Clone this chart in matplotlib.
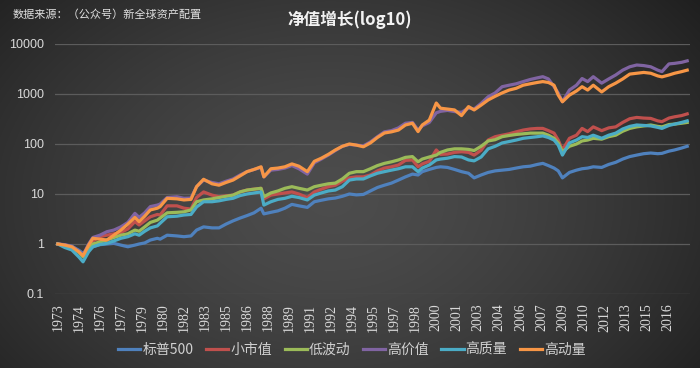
import numpy as np
import matplotlib
matplotlib.use('Agg')
import matplotlib.pyplot as plt
from matplotlib.lines import Line2D

plt.rcParams['font.family'] = ['Noto Sans CJK SC', 'DejaVu Sans']

# ---------------- data ----------------
dates = [
    1973.0, 1973.5, 1974.0, 1974.5, 1974.8, 1975.2, 1975.5, 1976.0, 1976.5, 1977.0,
    1977.5, 1978.0, 1978.5, 1978.8, 1979.2, 1979.6, 1980.1, 1980.3, 1980.8, 1981.5,
    1982.0, 1982.5, 1982.9, 1983.4, 1984.0, 1984.5, 1985.0, 1985.5, 1986.0, 1986.5,
    1987.0, 1987.5, 1987.7, 1988.2, 1988.7, 1989.2, 1989.7, 1990.2, 1990.8, 1991.3,
    1991.8, 1992.3, 1992.8, 1993.3, 1993.8, 1994.3, 1994.8, 1995.3, 1995.8, 1996.3,
    1996.8, 1997.3, 1997.8, 1998.3, 1998.7, 1999.0, 1999.5, 2000.0, 2000.3, 2000.8,
    2001.3, 2001.8, 2002.3, 2002.7, 2003.2, 2003.7, 2004.2, 2004.7, 2005.2, 2005.7,
    2006.2, 2006.7, 2007.2, 2007.6, 2008.0, 2008.4, 2008.7, 2009.0, 2009.5, 2010.0,
    2010.4, 2010.8, 2011.2, 2011.8, 2012.3, 2012.8, 2013.3, 2013.8, 2014.3, 2014.8,
    2015.3, 2015.8, 2016.1, 2016.6, 2017.0, 2017.5, 2017.9,
]

sp500 = [
    1.0, 0.95, 0.9, 0.75, 0.65, 0.8, 0.88, 0.97, 1.0, 1.03,
    0.95, 0.88, 0.95, 1.0, 1.05, 1.2, 1.3, 1.25, 1.5, 1.45,
    1.4, 1.45, 1.9, 2.2, 2.1, 2.1, 2.5, 2.9, 3.3, 3.7,
    4.2, 5.2, 4.0, 4.3, 4.6, 5.2, 6.2, 5.8, 5.4, 7.0,
    7.5, 8.0, 8.3, 9.0, 10.0, 9.6, 9.8, 11.5, 13.5, 15.0,
    16.5, 19.0, 22.0, 25.0, 24.0, 28.0, 31.0, 34.0, 35.0, 34.0,
    31.0, 28.0, 26.0, 21.0, 24.0, 27.0, 29.0, 30.0, 31.0, 33.0,
    35.0, 36.0, 39.0, 41.0, 37.0, 33.0, 29.0, 21.0, 27.0, 30.0,
    32.0, 33.0, 35.0, 34.0, 39.0, 43.0, 50.0, 56.0, 60.0, 64.0,
    66.0, 64.0, 65.0, 72.0, 76.0, 83.0, 90.0,
]

small_cap = [
    1.0, 0.95, 0.85, 0.7, 0.6, 0.9, 1.15, 1.4, 1.5, 1.6,
    1.7, 2.0, 2.8, 2.4, 2.9, 3.5, 3.9, 3.8, 5.8, 5.8,
    5.2, 5.0, 8.5, 11.0, 9.5, 8.8, 9.2, 9.5, 11.0, 12.0,
    12.5, 13.0, 8.0, 9.5, 10.0, 10.5, 11.0, 10.0, 8.5, 11.0,
    12.5, 14.0, 15.0, 18.0, 21.0, 22.0, 22.0, 24.0, 29.0, 33.0,
    35.0, 38.0, 47.0, 48.0, 35.0, 40.0, 45.0, 76.0, 62.0, 63.0,
    68.0, 70.0, 68.0, 60.0, 75.0, 120.0, 140.0, 150.0, 160.0, 175.0,
    190.0, 200.0, 205.0, 205.0, 185.0, 165.0, 120.0, 76.0, 130.0, 150.0,
    205.0, 177.0, 220.0, 185.0, 210.0, 220.0, 270.0, 320.0, 340.0, 330.0,
    325.0, 290.0, 280.0, 330.0, 350.0, 370.0, 400.0,
]

low_vol = [
    1.0, 0.92, 0.85, 0.68, 0.55, 0.85, 1.0, 1.1, 1.2, 1.35,
    1.5, 1.6, 1.9, 1.8, 2.2, 2.7, 3.0, 3.3, 4.2, 4.3,
    4.4, 4.8, 7.0, 7.6, 8.0, 8.5, 9.0, 9.5, 11.0, 12.0,
    12.5, 13.0, 8.8, 10.5, 11.5, 13.0, 14.0, 13.0, 12.0, 14.0,
    15.0, 16.0, 16.5, 20.0, 26.0, 28.0, 28.0, 32.0, 37.0, 41.0,
    44.0, 48.0, 54.0, 56.0, 44.0, 50.0, 55.0, 60.0, 68.0, 76.0,
    80.0, 80.0, 78.0, 74.0, 90.0, 115.0, 122.0, 140.0, 148.0, 155.0,
    160.0, 165.0, 165.0, 165.0, 150.0, 130.0, 105.0, 70.0, 90.0, 100.0,
    115.0, 120.0, 130.0, 125.0, 140.0, 150.0, 180.0, 205.0, 220.0, 230.0,
    240.0, 225.0, 220.0, 245.0, 250.0, 260.0, 270.0,
]

value = [
    1.0, 0.97, 0.9, 0.72, 0.6, 1.0, 1.35, 1.5, 1.76, 1.9,
    2.2, 2.7, 4.1, 3.4, 4.2, 5.6, 6.0, 6.3, 8.5, 8.8,
    8.2, 8.3, 14.0, 19.0, 17.0, 16.0, 18.0, 20.0, 24.0, 28.0,
    31.0, 34.0, 22.0, 30.0, 31.0, 33.0, 37.0, 32.0, 25.0, 42.0,
    50.0, 60.0, 74.0, 90.0, 98.0, 95.0, 92.0, 110.0, 140.0, 175.0,
    185.0, 210.0, 260.0, 270.0, 190.0, 230.0, 270.0, 420.0, 450.0, 470.0,
    445.0, 430.0, 525.0, 500.0, 650.0, 880.0, 1050.0, 1400.0, 1500.0, 1600.0,
    1770.0, 1950.0, 2100.0, 2220.0, 2000.0, 1400.0, 1050.0, 700.0, 1200.0, 1500.0,
    2040.0, 1770.0, 2220.0, 1650.0, 2000.0, 2400.0, 3000.0, 3500.0, 3800.0, 3700.0,
    3500.0, 3000.0, 2800.0, 4000.0, 4100.0, 4300.0, 4600.0,
]

quality = [
    1.0, 0.85, 0.76, 0.55, 0.44, 0.7, 0.88, 0.98, 1.03, 1.15,
    1.3, 1.4, 1.6, 1.5, 1.8, 2.1, 2.3, 2.6, 3.5, 3.6,
    3.8, 3.9, 5.5, 7.0, 7.0, 7.3, 7.8, 8.2, 9.3, 10.0,
    10.5, 11.0, 6.0, 7.0, 7.8, 8.2, 9.0, 8.5, 7.6, 9.5,
    10.5, 11.5, 12.0, 14.0, 19.0, 20.0, 20.0, 23.0, 26.0, 28.0,
    30.0, 32.0, 35.0, 35.0, 28.0, 33.0, 38.0, 48.0, 50.0, 52.0,
    56.0, 55.0, 48.0, 46.0, 55.0, 80.0, 90.0, 105.0, 112.0, 120.0,
    130.0, 135.0, 140.0, 145.0, 135.0, 120.0, 95.0, 60.0, 105.0, 120.0,
    140.0, 135.0, 150.0, 130.0, 150.0, 165.0, 200.0, 225.0, 240.0, 235.0,
    230.0, 215.0, 205.0, 235.0, 250.0, 270.0, 290.0,
]

momentum = [
    1.0, 0.95, 0.88, 0.7, 0.58, 0.95, 1.3, 1.25, 1.2, 1.5,
    1.9, 2.5, 3.4, 2.8, 3.6, 4.8, 5.2, 5.6, 8.2, 8.0,
    7.6, 7.8, 14.0, 19.7, 16.0, 15.0, 17.0, 19.0, 23.0, 28.0,
    31.0, 35.0, 22.0, 32.0, 33.0, 35.0, 40.0, 36.0, 28.0, 45.0,
    52.0, 62.0, 76.0, 90.0, 100.0, 95.0, 88.0, 105.0, 135.0, 166.0,
    175.0, 190.0, 240.0, 260.0, 177.0, 240.0, 300.0, 660.0, 520.0, 500.0,
    480.0, 370.0, 560.0, 480.0, 600.0, 760.0, 900.0, 1050.0, 1200.0, 1300.0,
    1500.0, 1600.0, 1700.0, 1770.0, 1700.0, 1500.0, 950.0, 700.0, 950.0, 1150.0,
    1400.0, 1200.0, 1500.0, 1100.0, 1400.0, 1650.0, 2000.0, 2500.0, 2600.0, 2700.0,
    2600.0, 2300.0, 2200.0, 2400.0, 2600.0, 2800.0, 3000.0,
]

series_names = ['标普500', '小市值', '低波动', '高价值', '高质量', '高动量']
series_values = [sp500, small_cap, low_vol, value, quality, momentum]
colors = ['#4F81BD', '#C0504D', '#9BBB59', '#8064A2', '#4BACC6', '#F79646']

ytick_values = [0.1, 1, 10, 100, 1000, 10000]
ytick_labels = ['0.1', '1', '10', '100', '1000', '10000']
xtick_labels = ['1973', '1974', '1976', '1977', '1979', '1980', '1982', '1983',
                '1985', '1986', '1988', '1989', '1991', '1992', '1994', '1995',
                '1997', '1998', '2000', '2001', '2003', '2004', '2006', '2007',
                '2009', '2010', '2012', '2013', '2015', '2016']
xtick_pos = [1973 + 1.5 * k for k in range(len(xtick_labels))]

title = '净值增长(log10)'
source = '数据来源：（公众号）新全球资产配置'

# ---------------- figure ----------------
W, H = 700, 368
fig = plt.figure(figsize=(W / 100, H / 100), dpi=100)

# dark radial gradient background
bg = fig.add_axes([0, 0, 1, 1], zorder=-10)
yy, xx = np.mgrid[0:H, 0:W]
r = np.sqrt(((xx - 330) / 470.0) ** 2 + ((yy - 200) / 330.0) ** 2)
g = 0.30 - 0.18 * np.clip(r, 0, 1) ** 1.5
bg.imshow(np.dstack([g, g, g]), aspect='auto', extent=[0, 1, 0, 1], origin='upper')
bg.set_xlim(0, 1)
bg.set_ylim(0, 1)
bg.axis('off')

ax = fig.add_axes([55 / W, 1 - 294 / H, 635 / W, 250 / H])
ax.set_facecolor('none')
ax.set_yscale('log')
ax.set_ylim(0.1, 10000)
ax.set_xlim(1972.8, 2018.1)

for yv in ytick_values:
    ax.axhline(yv, color='#5c5c5c', lw=0.9, zorder=1)

for vals, c, name in zip(series_values, colors, series_names):
    ax.plot(dates, vals, color=c, lw=2.3, zorder=3, label=name,
            solid_joinstyle='round')

ax.set_yticks(ytick_values)
ax.set_yticklabels(ytick_labels)
ax.yaxis.set_minor_locator(matplotlib.ticker.NullLocator())
ax.set_xticks(xtick_pos)
ax.set_xticklabels(xtick_labels, rotation=90, family='Liberation Serif', fontsize=10)
for lbl in ax.get_yticklabels():
    lbl.set_family('Liberation Sans')
    lbl.set_fontsize(9)
ax.tick_params(axis='x', length=0, pad=7, colors='#d9d9d9')
ax.tick_params(axis='y', length=0, pad=8, colors='#d9d9d9')
for s in ax.spines.values():
    s.set_visible(False)

fig.text(349.5 / W, 1 - 20 / H, title, ha='center', va='center', color='#f2f2f2',
         fontsize=12, fontweight='bold')
fig.text(13 / W, 1 - 15 / H, source, ha='left', va='center', color='#e0e0e0',
         fontsize=8)

handles = [Line2D([0], [0], color=c, lw=2.3) for c in colors]
fig.legend(handles, series_names, loc='center', bbox_to_anchor=(352 / W, 1 - 350 / H),
           ncol=6, frameon=False, fontsize=10, handlelength=1.6, handletextpad=0.15,
           columnspacing=0.9, labelcolor='#d0d0d0')

fig.savefig('out.png', dpi=100)
